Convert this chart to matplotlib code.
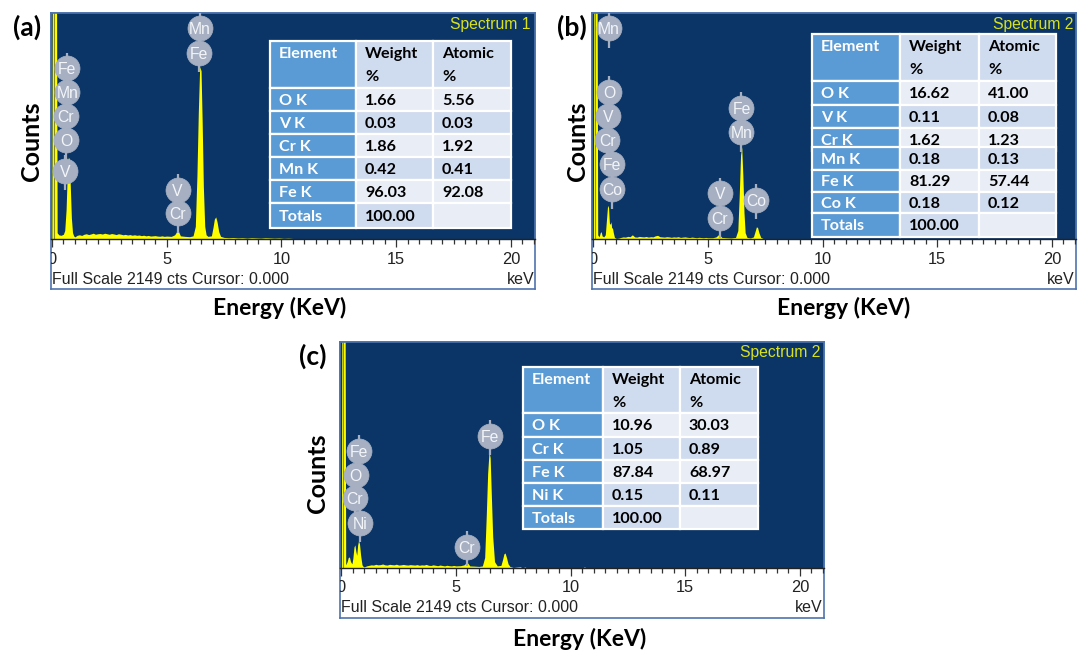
import matplotlib
matplotlib.use('Agg')
import matplotlib.pyplot as plt
from matplotlib.patches import Rectangle
from matplotlib.ticker import MultipleLocator
from matplotlib.transforms import blended_transform_factory

# ---------------- data ----------------
FULL_SCALE = 2149
tick_values = [0, 5, 10, 15, 20]
tick_labels = ['0', '5', '10', '15', '20']
x_label = 'Energy (KeV)'
y_label = 'Counts'
footer_text = 'Full Scale 2149 cts Cursor: 0.000'
unit_text = 'keV'
panel_letters = ['(a)', '(b)', '(c)']
spectrum_names = ['Spectrum 1', 'Spectrum 2', 'Spectrum 2']

# spectrum (a)
energy_a = [0.00, 0.02, 0.20, 0.23, 0.30, 0.40, 0.50, 0.56, 0.62, 0.67, 0.72, 0.76, 0.80, 0.85, 0.90, 0.95, 1.00,
            1.1, 1.2, 1.3, 1.4, 1.5, 1.6, 1.7, 1.8, 1.9, 2.0, 2.1, 2.2, 2.3, 2.4, 2.5, 2.6, 2.7, 2.8, 2.9, 3.0,
            3.1, 3.2, 3.3, 3.4, 3.5, 3.6, 3.7, 3.8, 3.9, 4.0, 4.1, 4.2, 4.3, 4.4, 4.5, 4.6, 4.7, 4.8, 4.9, 5.0,
            5.2, 5.35, 5.45, 5.52, 5.6, 5.8, 6.0, 6.15, 6.25, 6.32, 6.38, 6.44, 6.50, 6.55, 6.60, 6.66, 6.72, 6.80,
            6.95, 7.02, 7.08, 7.14, 7.20, 7.27, 7.35, 7.50, 7.7, 7.9, 8.1, 8.3, 8.5, 8.7, 8.9, 9.1, 9.3, 9.5,
            9.7, 9.9, 10.1, 10.3, 10.5, 10.7, 11.0]
counts_a = [0, 2600, 2600, 60, 40, 35, 45, 80, 280, 620, 780, 760, 520, 200, 60, 30, 20,
            35, 40, 34, 45, 50, 42, 48, 55, 45, 50, 52, 47, 55, 50, 45, 52, 48, 42, 50, 46,
            40, 44, 38, 42, 36, 40, 35, 38, 32, 36, 30, 34, 28, 30, 32, 28, 26, 30, 25, 28,
            25, 40, 75, 70, 30, 25, 22, 30, 120, 600, 1200, 1640, 1600, 1100, 500, 120, 40, 25,
            30, 110, 190, 210, 160, 70, 25, 15, 12, 14, 10, 12, 8, 12, 10, 8, 12, 10,
            8, 10, 6, 8, 5, 4, 0]

# spectrum (b)
energy_b = [0.00, 0.02, 0.16, 0.19, 0.25, 0.30, 0.34, 0.38, 0.45, 0.52, 0.57, 0.62, 0.66, 0.70, 0.74, 0.77,
            0.80, 0.83, 0.87, 0.92, 1.00,
            1.1, 1.2, 1.3, 1.4, 1.5, 1.6, 1.7, 1.8, 1.9, 2.0, 2.1, 2.2, 2.3, 2.4, 2.5, 2.6, 2.7, 2.8, 2.9, 3.0,
            3.1, 3.2, 3.3, 3.4, 3.5, 3.6, 3.7, 3.8, 3.9, 4.0, 4.1, 4.2, 4.3, 4.4, 4.5, 4.6, 4.7, 4.8, 4.9, 5.0,
            5.2, 5.35, 5.45, 5.52, 5.6, 5.8, 6.0, 6.2, 6.3, 6.36, 6.42, 6.47, 6.52, 6.57, 6.62, 6.7, 6.85,
            6.98, 7.05, 7.11, 7.16, 7.22, 7.3, 7.4, 7.6, 8.0]
counts_b = [0, 2600, 2600, 40, 20, 60, 70, 30, 20, 40, 180, 320, 300, 150, 140, 165,
            100, 110, 60, 15, 5,
            8, 15, 20, 18, 25, 22, 40, 20, 18, 25, 22, 20, 24, 18, 22, 20, 30, 35, 22, 20,
            18, 22, 20, 16, 20, 18, 22, 15, 18, 20, 16, 14, 18, 15, 12, 16, 14, 12, 15, 12,
            12, 20, 40, 35, 15, 12, 10, 15, 80, 400, 800, 875, 600, 250, 60, 15, 10,
            20, 70, 115, 110, 60, 15, 5, 0, 0]

# spectrum (c)
energy_c = [0.00, 0.02, 0.16, 0.19, 0.25, 0.30, 0.35, 0.40, 0.46, 0.50, 0.55, 0.59, 0.63, 0.67, 0.71, 0.75,
            0.79, 0.84, 0.90, 0.95, 1.00,
            1.1, 1.2, 1.3, 1.4, 1.5, 1.6, 1.7, 1.8, 1.9, 2.0, 2.1, 2.2, 2.3, 2.4, 2.5, 2.6, 2.7, 2.8, 2.9, 3.0,
            3.1, 3.2, 3.3, 3.4, 3.5, 3.6, 3.7, 3.8, 3.9, 4.0, 4.1, 4.2, 4.3, 4.4, 4.5, 4.6, 4.7, 4.8, 4.9, 5.0,
            5.2, 5.35, 5.45, 5.52, 5.6, 5.8, 6.0, 6.15, 6.25, 6.32, 6.38, 6.44, 6.49, 6.54, 6.6, 6.68, 6.8,
            6.96, 7.03, 7.09, 7.14, 7.2, 7.27, 7.35, 7.5, 7.7, 7.8, 7.9, 8.0, 8.1, 8.3, 10.5, 10.6, 10.7]
counts_c = [0, 2600, 2600, 30, 60, 100, 105, 60, 40, 90, 200, 220, 160, 120, 220, 260,
            230, 120, 30, 15, 10,
            20, 25, 30, 28, 35, 30, 32, 38, 30, 28, 35, 32, 30, 36, 28, 30, 34, 30, 28, 32,
            30, 28, 32, 26, 30, 28, 34, 26, 24, 30, 26, 22, 28, 24, 20, 26, 22, 20, 24, 20,
            22, 30, 50, 45, 20, 18, 15, 20, 100, 500, 900, 1105, 1050, 700, 300, 60, 20,
            25, 80, 135, 143, 100, 40, 15, 5, 10, 12, 0, 10, 0, 0, 0, 10, 0]

# element markers: symbol, energy (keV), counts
labels_a_sym = ['Fe', 'Mn', 'Cr', 'O', 'V', 'Mn', 'Fe', 'V', 'Cr']
labels_a_e = [0.64, 0.68, 0.61, 0.61, 0.57, 6.45, 6.42, 5.48, 5.48]
labels_a_c = [1626, 1398, 1170, 941, 647, 2005, 1769, 466, 244]

labels_b_sym = ['Mn', 'O', 'V', 'Cr', 'Fe', 'Co', 'Fe', 'Mn', 'Co', 'V', 'Cr']
labels_b_e = [0.68, 0.69, 0.65, 0.61, 0.82, 0.82, 6.46, 6.46, 7.09, 5.52, 5.52]
labels_b_c = [2003, 1401, 1170, 941, 710, 473, 1249, 1015, 371, 435, 197]

labels_c_sym = ['Fe', 'O', 'Cr', 'Ni', 'Cr', 'Fe']
labels_c_e = [0.78, 0.63, 0.58, 0.82, 5.46, 6.47]
labels_c_c = [1113, 884, 663, 431, 200, 1258]

# quantification tables
table_header = ['Element', 'Weight\n%', 'Atomic\n%']
table_a_elem = ['O K', 'V K', 'Cr K', 'Mn K', 'Fe K', 'Totals']
table_a_weight = ['1.66', '0.03', '1.86', '0.42', '96.03', '100.00']
table_a_atomic = ['5.56', '0.03', '1.92', '0.41', '92.08', '']

table_b_elem = ['O K', 'V K', 'Cr K', 'Mn K', 'Fe K', 'Co K', 'Totals']
table_b_weight = ['16.62', '0.11', '1.62', '0.18', '81.29', '0.18', '100.00']
table_b_atomic = ['41.00', '0.08', '1.23', '0.13', '57.44', '0.12', '']

table_c_elem = ['O K', 'Cr K', 'Fe K', 'Ni K', 'Totals']
table_c_weight = ['10.96', '1.05', '87.84', '0.15', '100.00']
table_c_atomic = ['30.03', '0.89', '68.97', '0.11', '']

# ---------------- styling / layout ----------------
W, H = 1078, 653
XMIN, XMAX = -0.06, 21.05
BG = '#0b3566'
YEL = '#ffff00'
FRAME = '#4f74ad'
CIRC = '#a6b0c2'
ELEM_BLUE = '#5b9bd5'
DARK_CELL = '#cfdbee'
LIGHT_CELL = '#e8edf6'
BOLD_FONT = 'Lato'
PLAIN_FONT = 'Liberation Sans'

fig = plt.figure(figsize=(W / 100, H / 100), dpi=100)
fig.patch.set_facecolor('white')

ov = fig.add_axes([0, 0, 1, 1], zorder=5)
ov.set_xlim(0, W)
ov.set_ylim(H, 0)
ov.axis('off')


def px_box(x0, y0, x1, y1):
    return [x0 / W, 1 - y1 / H, (x1 - x0) / W, (y1 - y0) / H]


def draw_table(cols, rows, elems, weights, atomics):
    top, bot = rows[0]
    for c in range(3):
        fc = ELEM_BLUE if c == 0 else DARK_CELL
        ov.add_patch(Rectangle((cols[c], top), cols[c + 1] - cols[c], bot - top,
                               facecolor=fc, edgecolor='white', lw=1.6, zorder=6))
    for c, txt in enumerate(table_header):
        first, *rest = txt.split('\n')
        col = 'white' if c == 0 else 'black'
        ov.text(cols[c] + 9, top + 13, first, ha='left', va='center', fontsize=11.6,
                family=BOLD_FONT, weight='bold', color=col, zorder=7)
        if rest:
            ov.text(cols[c] + 9, top + 36, rest[0], ha='left', va='center', fontsize=11.6,
                    family=BOLD_FONT, weight='bold', color=col, zorder=7)
    n = len(elems)
    for i in range(n):
        top, bot = rows[i + 1]
        if i == n - 1:
            fills = [ELEM_BLUE, DARK_CELL, LIGHT_CELL]
        else:
            v = LIGHT_CELL if i % 2 == 0 else DARK_CELL
            fills = [ELEM_BLUE, v, v]
        texts = [elems[i], weights[i], atomics[i]]
        for c in range(3):
            ov.add_patch(Rectangle((cols[c], top), cols[c + 1] - cols[c], bot - top,
                                   facecolor=fills[c], edgecolor='white', lw=1.6, zorder=6))
            ov.text(cols[c] + 9, (top + bot) / 2 + 1.5, texts[c], ha='left', va='center', fontsize=11.6,
                    family=BOLD_FONT, weight='bold', color='white' if c == 0 else 'black', zorder=6)


def draw_panel(p):
    x0, y0, x1, y1 = p['frame']
    yd = p['dark_bottom']
    axf = fig.add_axes(px_box(x0, y0, x1, y1), zorder=0)
    axf.set_xticks([])
    axf.set_yticks([])
    axf.set_facecolor('white')
    for s in axf.spines.values():
        s.set_edgecolor(FRAME)
        s.set_linewidth(1.2)

    ax = fig.add_axes(px_box(x0, y0, x1, yd), zorder=1)
    ax.set_facecolor(BG)
    ax.set_xlim(XMIN, XMAX)
    ax.set_ylim(0, FULL_SCALE)
    ax.set_yticks([])
    ax.set_xticks(tick_values)
    ax.xaxis.set_minor_locator(MultipleLocator(0.5))
    ax.tick_params(axis='x', which='major', direction='out', length=6, width=0.9,
                   color='#333333', labelbottom=False)
    ax.tick_params(axis='x', which='minor', direction='out', length=3.6, width=0.9, color='#333333')
    for k in ('top', 'left', 'right'):
        ax.spines[k].set_edgecolor(FRAME)
        ax.spines[k].set_linewidth(1.2)
    ax.spines['bottom'].set_edgecolor('#222222')
    ax.spines['bottom'].set_linewidth(1.0)

    ax.fill_between(p['energy'], 0, p['counts'], color=YEL, lw=0, zorder=2)
    ax.plot([0.09, 0.09], [0, FULL_SCALE], color='#8c8c14', lw=0.8, zorder=2.5)

    # element markers
    cpp = FULL_SCALE / (yd - y0)
    r = 12.5
    for sym, e, c in zip(p['lab_sym'], p['lab_e'], p['lab_c']):
        ax.plot([e, e], [c - (r + 7) * cpp, c + (r + 3) * cpp], color=CIRC, lw=1.6,
                zorder=3, clip_on=False, solid_capstyle='butt')
        ax.plot([e], [c], 'o', ms=2 * r * 0.72, mfc=CIRC, mec=CIRC, mew=0.5, zorder=4, clip_on=False)
        ax.text(e, c, sym, ha='center', va='center_baseline', fontsize=11.3, family=PLAIN_FONT,
                color='#f3f5f8', zorder=5)

    # tick labels (clipped by frame)
    clip = Rectangle((x0, y0), x1 - x0, y1 - y0, transform=ov.transData)
    bt = blended_transform_factory(ax.transData, ov.transData)
    for v, lab in zip(tick_values, tick_labels):
        t = ov.text(v, yd + 20, lab, transform=bt, ha='center', va='center', fontsize=11.8,
                    family=PLAIN_FONT, color='#222222', clip_on=True)
        t.set_clip_path(clip)
    ov.text(x0 + 1, y1 - 10, footer_text, ha='left', va='center', fontsize=11.5,
            family=PLAIN_FONT, color='#222222')
    ov.text(x1 - 1, y1 - 10, unit_text, ha='right', va='center', fontsize=11.5,
            family=PLAIN_FONT, color='#222222')
    ov.text(p['name_xy'][0], p['name_xy'][1], p['name'], ha='right', va='center', fontsize=11.3,
            family=PLAIN_FONT, color='#d9e21c')

    # outer labels
    ov.text(*p['letter_xy'], p['letter'], ha='center', va='center', fontsize=19,
            family=BOLD_FONT, weight='bold', color='black')
    ov.text(*p['ylab_xy'], y_label, ha='center', va='center', rotation=90, fontsize=18,
            family=BOLD_FONT, weight='bold', color='black')
    ov.text(*p['xlab_xy'], x_label, ha='center', va='center', fontsize=16.5,
            family=BOLD_FONT, weight='bold', color='black')

    draw_table(p['cols'], p['rows'], *p['table'])


panels = [
    dict(frame=(50.5, 13, 535, 289), dark_bottom=239, energy=energy_a, counts=counts_a,
         lab_sym=labels_a_sym, lab_e=labels_a_e, lab_c=labels_a_c,
         name=spectrum_names[0], name_xy=(531, 24), letter=panel_letters[0], letter_xy=(27, 27),
         ylab_xy=(31, 141), xlab_xy=(280, 308),
         cols=[270, 356, 433, 511],
         rows=[(41, 88), (88, 111), (111, 134), (134, 157), (157, 180), (180, 203), (203, 228)],
         table=(table_a_elem, table_a_weight, table_a_atomic)),
    dict(frame=(592, 13, 1076, 289), dark_bottom=239, energy=energy_b, counts=counts_b,
         lab_sym=labels_b_sym, lab_e=labels_b_e, lab_c=labels_b_c,
         name=spectrum_names[1], name_xy=(1073, 24), letter=panel_letters[1], letter_xy=(572, 27),
         ylab_xy=(577, 141), xlab_xy=(844, 308),
         cols=[812, 900, 979, 1056],
         rows=[(34, 81), (81, 105), (105, 128), (128, 151), (147, 170), (170, 192), (192, 213), (213, 237)],
         table=(table_b_elem, table_b_weight, table_b_atomic)),
    dict(frame=(340, 342, 824, 618), dark_bottom=568, energy=energy_c, counts=counts_c,
         lab_sym=labels_c_sym, lab_e=labels_c_e, lab_c=labels_c_c,
         name=spectrum_names[2], name_xy=(820, 353), letter=panel_letters[2], letter_xy=(313, 356),
         ylab_xy=(317, 473), xlab_xy=(580, 639),
         cols=[523, 603, 680, 758],
         rows=[(367, 413), (413, 437), (437, 460), (460, 483), (483, 506), (506, 529)],
         table=(table_c_elem, table_c_weight, table_c_atomic)),
]

for p in panels:
    draw_panel(p)

fig.savefig('out.png', dpi=100, facecolor='white')
